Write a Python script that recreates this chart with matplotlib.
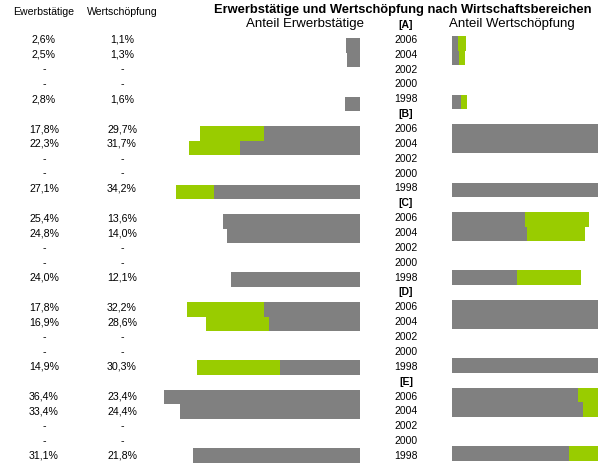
import numpy as np
import matplotlib
matplotlib.use('Agg')
import matplotlib.pyplot as plt

plt.rcParams['font.family'] = ['Liberation Sans', 'DejaVu Sans']

sections = ['[A]', '[B]', '[C]', '[D]', '[E]']
years = ['2006', '2004', '2002', '2000', '1998']

# Anteil in %, nan = kein Wert (2002, 2000)
nan = np.nan
erwerb = [
    [2.6, 2.5, nan, nan, 2.8],
    [17.8, 22.3, nan, nan, 27.1],
    [25.4, 24.8, nan, nan, 24.0],
    [17.8, 16.9, nan, nan, 14.9],
    [36.4, 33.4, nan, nan, 31.1],
]
wert = [
    [1.1, 1.3, nan, nan, 1.6],
    [29.7, 31.7, nan, nan, 34.2],
    [13.6, 14.0, nan, nan, 12.1],
    [32.2, 28.6, nan, nan, 30.3],
    [23.4, 24.4, nan, nan, 21.8],
]

GRAY = '#808080'
GREEN = '#99cc00'
W, H = 598, 466
px = 5.38          # pixel per percent
row_h = 14.86      # pixel per text row
row0 = 25          # pixel y of first text row
bar_h = 14.65      # pixel per bar row

fig = plt.figure(figsize=(W / 100, H / 100), dpi=100)

def px_axes(x0, x1):
    return fig.add_axes([x0 / W, 0, (x1 - x0) / W, 1])

def ylim_for(y0, pitch):
    # y0 = pixel of row 0, pitch = pixel per row
    return ((H - y0) / pitch, -y0 / pitch)

ax_l = px_axes(130, 360)
ax_l.set_xlim((360 - 130) / px, 0)
ax_l.set_ylim(*ylim_for(30.8, bar_h))
ax_r = px_axes(452, W)
ax_r.set_xlim(0, (W - 452) / px)
ax_r.set_ylim(*ylim_for(28.8, bar_h))
ax_t = px_axes(0, W)
ax_t.set_xlim(0, W)
ax_t.set_ylim(*ylim_for(row0, row_h))
for ax in (ax_l, ax_r, ax_t):
    ax.axis('off')
ax_t.patch.set_alpha(0)

erw = np.array(erwerb)
wer = np.array(wert)
rows = np.array([[6 * s + 1 + k for k in range(len(years))] for s in range(len(sections))])

r = rows.ravel()
e = erw.ravel()
w = wer.ravel()
ok = ~np.isnan(e)

# links: Erwerbstätige grau vor Wertschöpfung grün
ax_l.barh(r[ok], w[ok], height=1.01, color=GREEN, linewidth=0)
ax_l.barh(r[ok], e[ok], height=1.01, color=GRAY, linewidth=0)
# rechts: Wertschöpfung grau vor Erwerbstätige grün
ax_r.barh(r[ok], e[ok], height=1.01, color=GREEN, linewidth=0)
ax_r.barh(r[ok], w[ok], height=1.01, color=GRAY, linewidth=0)

def fmt(v):
    if np.isnan(v):
        return '-'
    return ('%.1f%%' % v).replace('.', ',')

for s, sec in enumerate(sections):
    ax_t.text(406, 6 * s, sec, ha='center', va='center', fontsize=7.5, fontweight='bold')
    for k, yr in enumerate(years):
        rr = rows[s, k]
        ax_t.text(406, rr, yr, ha='center', va='center', fontsize=7.5)
        ax_t.text(44, rr, fmt(erw[s, k]), ha='center', va='center', fontsize=7.7)
        ax_t.text(122, rr, fmt(wer[s, k]), ha='center', va='center', fontsize=7.7)

def ftext(x, y, s, **kw):
    fig.text(x / W, 1 - y / H, s, ha='center', va='center', **kw)

ftext(403, 10, 'Erwerbstätige und Wertschöpfung nach Wirtschaftsbereichen',
      fontsize=9.3, fontweight='bold')
ftext(305, 24, 'Anteil Erwerbstätige', fontsize=9.5)
ftext(512, 24, 'Anteil Wertschöpfung', fontsize=9.5)
ftext(44, 12, 'Ewerbstätige', fontsize=7.6)
ftext(122, 12, 'Wertschöpfung', fontsize=7.6)

fig.savefig('out.png', dpi=100)
